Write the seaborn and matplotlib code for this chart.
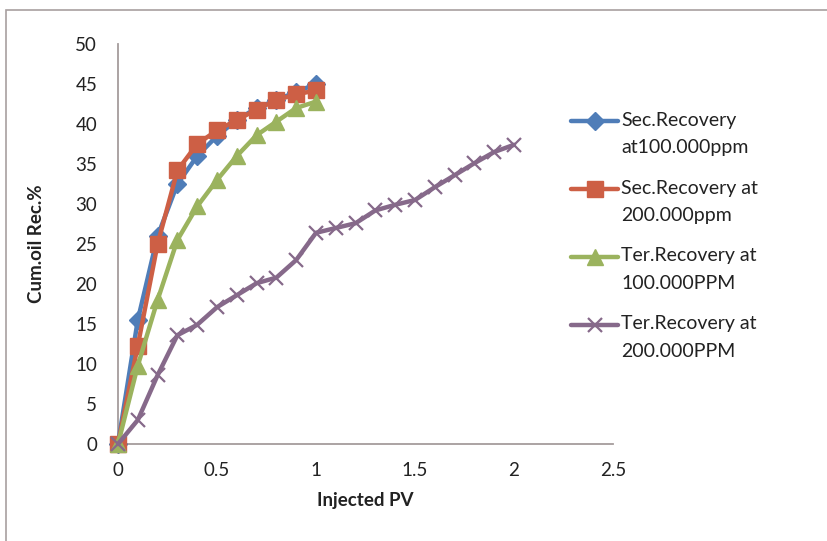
import matplotlib
matplotlib.use("Agg")
import matplotlib.pyplot as plt
import seaborn as sns
import numpy as np
import pandas as pd
from matplotlib.patches import Rectangle
from matplotlib.lines import Line2D
from matplotlib.legend_handler import HandlerLine2D

sns.set_theme(style="white")
plt.rcParams["font.family"] = ["Lato", "DejaVu Sans"]

# Injected pore volumes
pv_short = [0.0, 0.1, 0.2, 0.3, 0.4, 0.5, 0.6, 0.7, 0.8, 0.9, 1.0]
pv_long = [0.0, 0.1, 0.2, 0.3, 0.4, 0.5, 0.6, 0.7, 0.8, 0.9, 1.0,
           1.1, 1.2, 1.3, 1.4, 1.5, 1.6, 1.7, 1.8, 1.9, 2.0]

# Cumulative oil recovery (%)
sec_100 = [0, 15.5, 26.0, 32.5, 36.0, 38.5, 40.5, 42.0, 43.0, 44.0, 45.0]
sec_200 = [0, 12.3, 25.0, 34.2, 37.5, 39.2, 40.5, 41.8, 43.0, 43.7, 44.2]
ter_100 = [0, 9.8, 18.0, 25.5, 29.7, 33.0, 36.0, 38.6, 40.3, 42.0, 42.8]
ter_200 = [0, 3.0, 8.6, 13.6, 14.9, 17.1, 18.6, 20.1, 20.8, 23.0, 26.4,
           27.0, 27.6, 29.2, 29.9, 30.5, 32.1, 33.6, 35.1, 36.5, 37.4]

labels = ["Sec.Recovery\nat100.000ppm", "Sec.Recovery at\n200.000ppm",
          "Ter.Recovery at\n100.000PPM", "Ter.Recovery at\n200.000PPM"]
colors = ["#4F7DB8", "#CD5F45", "#9BB35E", "#86698A"]


class FirstLineHandler(HandlerLine2D):
    """Legend line handle aligned with the first line of a two-line label."""
    def __init__(self, raise_pts=9.5, **kw):
        super().__init__(**kw)
        self.raise_pts = raise_pts

    def create_artists(self, legend, orig_handle, xdescent, ydescent,
                       width, height, fontsize, trans):
        return super().create_artists(legend, orig_handle, xdescent,
                                      ydescent - 2 * self.raise_pts,
                                      width, height, fontsize, trans)


fig = plt.figure(figsize=(8.28, 5.41), dpi=100)
ax = fig.add_axes([118 / 828, 1 - 444 / 541, 495 / 828, 400 / 541])

series = [
    (pv_short, sec_100, "D", 9, 1.0),
    (pv_short, sec_200, "s", 12, 1.0),
    (pv_short, ter_100, "^", 11, 1.0),
    (pv_long, ter_200, "x", 10, 1.6),
]
for (xs, ys, mk, ms, mew), lab, col in zip(series, labels, colors):
    sns.lineplot(x=xs, y=ys, ax=ax, color=col, linewidth=3.2, marker=mk,
                 markersize=ms, markeredgecolor=col, markeredgewidth=mew,
                 label=lab, clip_on=False, zorder=3)

ax.set_xlim(0, 2.5)
ax.set_ylim(0, 50)
ax.set_xticks([0, 0.5, 1, 1.5, 2, 2.5])
ax.set_xticklabels(["0", "0.5", "1", "1.5", "2", "2.5"])
ax.set_yticks(range(0, 51, 5))
ax.tick_params(axis="both", labelsize=13.5, colors="#222222", length=0)
ax.tick_params(axis="x", pad=13)
ax.tick_params(axis="y", pad=15)
for side in ["top", "right"]:
    ax.spines[side].set_visible(False)
for side in ["left", "bottom"]:
    ax.spines[side].set_color("#A59C9C")
    ax.spines[side].set_linewidth(1.3)

ax.set_xlabel("Injected PV", fontsize=13.5, fontweight="bold", color="#222222", labelpad=9)
ax.set_ylabel("Cum.oil Rec.%", fontsize=13.5, fontweight="bold", color="#222222", labelpad=22)

leg = ax.legend(loc="upper left", bbox_to_anchor=(563 / 828, 1 - 104 / 541),
                bbox_transform=fig.transFigure, frameon=False, fontsize=14,
                handlelength=2.45, handletextpad=0.15, labelspacing=1.2,
                borderaxespad=0, handler_map={Line2D: FirstLineHandler()})
for t in leg.get_texts():
    t.set_color("#222222")
    t.set_linespacing(1.75)

# outer chart frame
fig.patches.append(Rectangle((6 / 828, -0.05), 1.2, 1 - 10 / 541 + 0.05,
                             transform=fig.transFigure, fill=False,
                             edgecolor="#A8A0A0", linewidth=1.2))

fig.savefig("out.png", dpi=100)
